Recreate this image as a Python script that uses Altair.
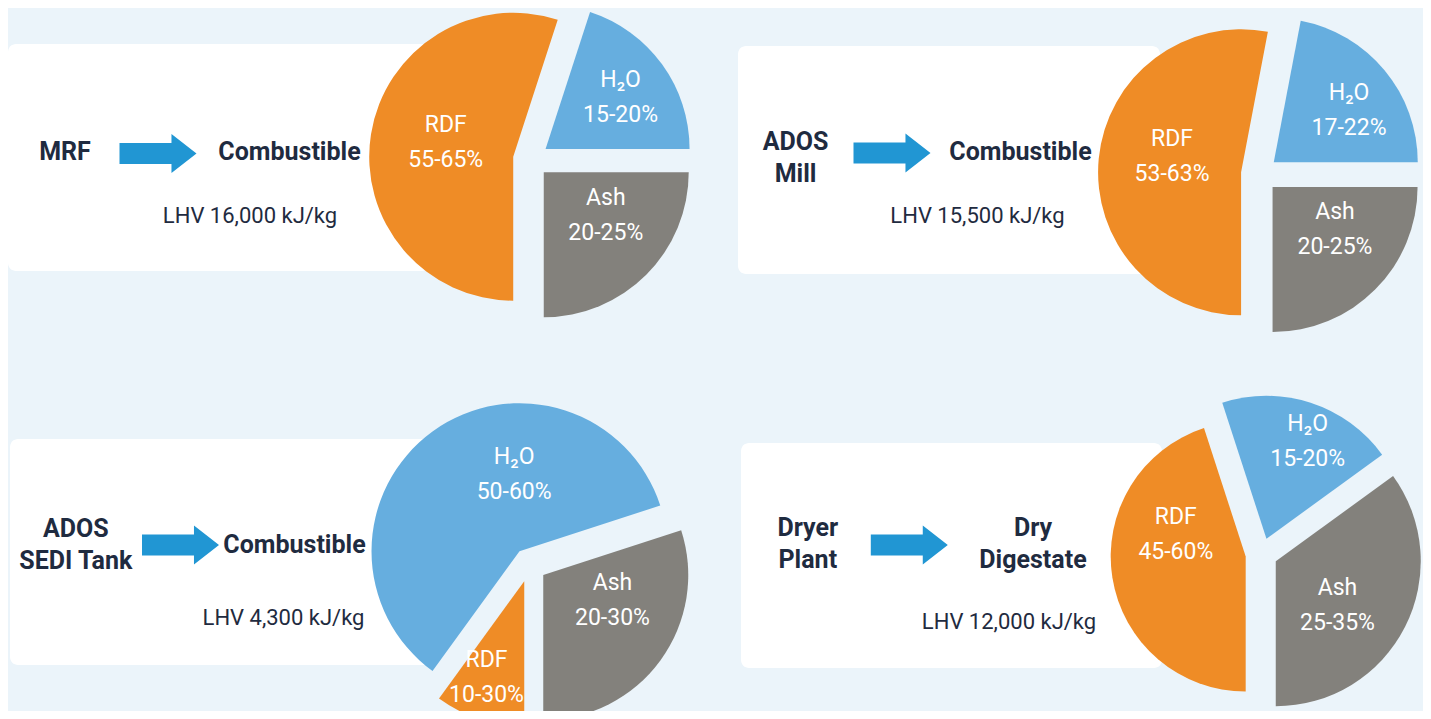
import math
import pandas as pd
import altair as alt

# ---------------- data ----------------
sources = [["MRF"], ["ADOS", "Mill"], ["ADOS", "SEDI Tank"], ["Dryer", "Plant"]]
products = [["Combustible"], ["Combustible"], ["Combustible"], ["Dry", "Digestate"]]
lhv_labels = ["LHV 16,000 kJ/kg", "LHV 15,500 kJ/kg", "LHV 4,300 kJ/kg", "LHV 12,000 kJ/kg"]
slices = ["RDF", "H₂O", "Ash"]
# angular share of each slice as drawn (%), order RDF, H2O, Ash
slice_share = [[55, 20, 25], [53, 22, 25], [10, 60, 30], [45, 20, 35]]
range_labels = [["55-65%", "15-20%", "20-25%"],
                ["53-63%", "17-22%", "20-25%"],
                ["10-30%", "50-60%", "20-30%"],
                ["45-60%", "15-20%", "25-35%"]]

# ---------------- layout / style ----------------
W, H = 1415, 703
BG = "#EBF4FA"
ORANGE, BLUE, GREY = "#EF8C26", "#66AEDF", "#83817C"
ARROW = "#2196D3"
NAVY = "#1F2B40"
FONT = "Roboto"

cards = [(8, 44, 430, 271), (738, 46, 1160, 274), (10, 439, 432, 665), (741, 443, 1162, 668)]
pie_centre = [(531, 159.5), (1259.5, 174), (529.5, 565), (1261.5, 554)]
explode = [18, 18.5, 17, 16]
radii = [[144, 144, 145], [143, 144, 145], [145, 148, 145], [135, 143, 145]]
label_polar = [[(282, 69), (55.5, 91), (124.7, 75.5)],
               [(282.5, 70.7), (55.3, 91.6), (124.2, 75.4)],
               [(201.5, 103), (356, 77), (110.3, 73.8)],
               [(287.6, 73.3), (23, 105.5), (125.9, 76.2)]]
source_pos = [(65, 152), (795.5, 158), (75.8, 544.5), (807.8, 544)]
product_pos = [(289.5, 152), (1020.5, 152), (294.5, 545), (1033, 544)]
arrow_pos = [(158, 153.5), (892, 153), (180.5, 545), (909.3, 545)]
lhv_pos = [(250, 216), (977.5, 216), (283.5, 618), (1009, 622)]
LINE_GAP = 32

# ---------------- tables ----------------
slice_rows = []
for p in range(4):
    cx, cy = pie_centre[p]
    e = explode[p]
    cum = 0
    for k, s in enumerate(slices):
        v = slice_share[p][k]
        t0, t1 = cum, cum + v
        cum = t1
        mid = math.radians(180 + (t0 + t1) / 2 * 3.6)
        ax = cx + e * math.sin(mid)
        ay = cy - e * math.cos(mid)
        la, ld = label_polar[p][k]
        lx = ax + ld * math.sin(math.radians(la))
        ly = ay - ld * math.cos(math.radians(la))
        slice_rows.append(dict(panel=p, slice=s, t0=t0, t1=t1, ax=ax, ay=ay,
                               r=radii[p][k], lx=lx, ly=ly, rng=range_labels[p][k]))
sdf = pd.DataFrame(slice_rows)

bold_rows = []
for p in range(4):
    for lines, (x, y) in ((sources[p], source_pos[p]), (products[p], product_pos[p])):
        n = len(lines)
        for i, t in enumerate(lines):
            bold_rows.append(dict(x=x, y=y + (i - (n - 1) / 2) * LINE_GAP, text=t))
bdf = pd.DataFrame(bold_rows)

ldf = pd.DataFrame(dict(x=[q[0] for q in lhv_pos], y=[q[1] for q in lhv_pos], text=lhv_labels))
adf = pd.DataFrame(dict(x=[q[0] for q in arrow_pos], y=[q[1] for q in arrow_pos]))
cdf = pd.DataFrame(dict(x0=[c[0] for c in cards], y0=[c[1] for c in cards],
                        x1=[c[2] for c in cards], y1=[c[3] for c in cards]))

xs = alt.Scale(domain=[8, 8 + W], nice=False, zero=False)
ys = alt.Scale(domain=[8, 8 + H], reverse=True, nice=False, zero=False)
X = lambda f: alt.X(f, type="quantitative", scale=xs, axis=None)
Y = lambda f: alt.Y(f, type="quantitative", scale=ys, axis=None)

card_layer = alt.Chart(cdf).mark_rect(color="white", cornerRadius=8).encode(
    x=X("x0"), x2="x1", y=Y("y0"), y2="y1")

arc_layer = alt.Chart(sdf).mark_arc(strokeWidth=0).encode(
    x=X("ax"), y=Y("ay"),
    theta=alt.Theta("t0:Q", stack=None,
                    scale=alt.Scale(domain=[0, 100], range=[math.pi, 3 * math.pi])),
    theta2="t1:Q",
    radius=alt.Radius("r:Q", scale=None),
    color=alt.Color("slice:N", legend=None,
                    scale=alt.Scale(domain=slices, range=[ORANGE, BLUE, GREY])),
)

name_layer = alt.Chart(sdf).mark_text(font=FONT, fontSize=23, color="white", dy=-17.5).encode(
    x=X("lx"), y=Y("ly"), text="slice:N")
range_layer = alt.Chart(sdf).mark_text(font=FONT, fontSize=23, color="white", dy=17.5).encode(
    x=X("lx"), y=Y("ly"), text="rng:N")

arrow_path = "M -1 -0.273 L 0.35 -0.273 L 0.35 -0.506 L 1 0 L 0.35 0.506 L 0.35 0.273 L -1 0.273 Z"
arrow_layer = alt.Chart(adf).mark_point(shape=arrow_path, size=77 * 77, filled=True,
                                        color=ARROW, opacity=1, strokeWidth=0).encode(
    x=X("x"), y=Y("y"))

bold_layer = alt.Chart(bdf).mark_text(font=FONT, fontSize=25, fontWeight="bold", color=NAVY).encode(
    x=X("x"), y=Y("y"), text="text:N")
lhv_layer = alt.Chart(ldf).mark_text(font=FONT, fontSize=22, color=NAVY).encode(
    x=X("x"), y=Y("y"), text="text:N")

chart = alt.layer(card_layer, arc_layer, name_layer, range_layer, arrow_layer,
                  bold_layer, lhv_layer).properties(
    width=W, height=H, background=BG, padding=0, autosize="none"
).configure_view(stroke=None)

chart.save("out.html", embed_options={"renderer": "svg", "actions": False})
